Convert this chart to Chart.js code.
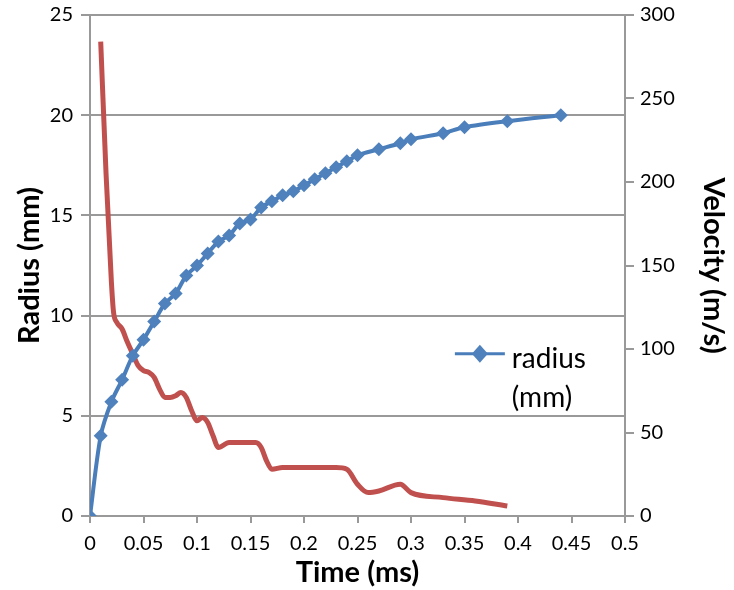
<!DOCTYPE html>
<html>
<head>
<meta charset="utf-8">
<script src="https://cdn.jsdelivr.net/npm/chart.js@4.4.1/dist/chart.umd.min.js"></script>
<style>
  html, body { margin: 0; padding: 0; background: #fff; }
  #wrap { width: 734px; height: 590px; }
</style>
</head>
<body>
<div id="wrap"><canvas id="radiusChart" width="734" height="590"></canvas></div>
<script>
// radius (mm) vs time (ms)
var radiusTime = [0, 0.01, 0.02, 0.03, 0.04, 0.05, 0.06, 0.07, 0.08, 0.09, 0.1, 0.11, 0.12, 0.13, 0.14, 0.15,
  0.16, 0.17, 0.18, 0.19, 0.2, 0.21, 0.22, 0.23, 0.24, 0.25, 0.27, 0.29, 0.3, 0.33, 0.35, 0.39, 0.44];
var radiusMm = [0, 4.0, 5.7, 6.8, 8.0, 8.8, 9.7, 10.6, 11.1, 12.0, 12.5, 13.1, 13.7, 14.0, 14.6, 14.8,
  15.4, 15.7, 16.0, 16.2, 16.5, 16.8, 17.1, 17.4, 17.7, 18.0, 18.3, 18.6, 18.8, 19.1, 19.4, 19.7, 20.0];

// velocity (m/s) vs time (ms), right axis
var velocityTime = [0.01, 0.015, 0.02, 0.022, 0.025, 0.03, 0.035, 0.04, 0.045, 0.05, 0.055, 0.06, 0.065, 0.07,
  0.075, 0.08, 0.085, 0.09, 0.095, 0.1, 0.105, 0.11, 0.115, 0.12, 0.13, 0.15, 0.155, 0.16, 0.165, 0.17,
  0.18, 0.23, 0.24, 0.25, 0.26, 0.27, 0.29, 0.3, 0.33, 0.36, 0.39];
var velocityMs = [284, 205, 140, 122, 116, 112, 104, 97, 90, 87, 86, 83, 76, 71,
  71, 72, 74, 71, 63, 57, 59, 56, 48, 41, 44, 44, 44, 41, 33, 28,
  29, 29, 28, 19, 14, 15, 19, 14, 11, 9, 6];

var FONT = 'Lato, "Open Sans", sans-serif';

function pairs(xs, ys) {
  var out = [];
  for (var i = 0; i < xs.length; i++) out.push({ x: xs[i], y: ys[i] });
  return out;
}

// legend for the radius series only, sitting inside the plot
var legendBox = {
  id: 'legendBox',
  afterDraw: function (chart) {
    var c = chart.ctx;
    var x = chart.scales.x.getPixelForValue(0.341);
    var y = chart.scales.y.getPixelForValue(8.1);
    c.save();
    c.strokeStyle = '#4A7EBB';
    c.lineWidth = 3;
    c.beginPath();
    c.moveTo(x, y);
    c.lineTo(x + 50, y);
    c.stroke();
    c.fillStyle = '#4F81BD';
    c.beginPath();
    c.moveTo(x + 25, y - 9);
    c.lineTo(x + 33, y);
    c.lineTo(x + 25, y + 9);
    c.lineTo(x + 17, y);
    c.closePath();
    c.fill();
    c.fillStyle = '#000';
    c.font = '28px ' + FONT;
    c.textBaseline = 'alphabetic';
    c.fillText('radius', x + 57, y + 14);
    c.fillText('(mm)', x + 57, y + 53);
    c.restore();
  }
};

function fixVertical(width) {
  return function (s) {
    s.width = width;
    s.paddingTop = 0;
    s.paddingBottom = 0;
  };
}

var ctx = document.getElementById('radiusChart');
var myChart = new Chart(ctx, {
  type: 'scatter',
  data: {
    datasets: [{
      label: 'radius (mm)',
      data: pairs(radiusTime, radiusMm),
      yAxisID: 'y',
      showLine: true,
      borderColor: '#4A7EBB',
      borderWidth: 4,
      backgroundColor: '#4F81BD',
      pointStyle: 'rectRot',
      pointRadius: 7,
      pointBorderWidth: 0,
      tension: 0.3,
      order: 1
    }, {
      label: 'velocity (m/s)',
      data: pairs(velocityTime, velocityMs),
      yAxisID: 'y2',
      showLine: true,
      borderColor: '#C0504D',
      borderWidth: 5,
      pointRadius: 0,
      cubicInterpolationMode: 'monotone',
      order: 2
    }]
  },
  options: {
    responsive: false,
    animation: false,
    layout: { padding: { top: 15 } },
    plugins: {
      legend: { display: false },
      tooltip: { enabled: false }
    },
    scales: {
      x: {
        type: 'linear',
        min: 0,
        max: 0.5,
        afterFit: function (s) { s.height = 74; },
        ticks: { stepSize: 0.05, color: '#000', font: { family: FONT, size: 20 }, padding: 9, maxRotation: 0,
          callback: function (v) { return Math.round(v * 100) / 100; } },
        grid: { drawOnChartArea: false, color: '#999', lineWidth: 2, tickLength: 7 },
        border: { color: '#999', width: 2 },
        title: { display: true, text: 'Time (ms)', color: '#000', font: { family: FONT, size: 29, weight: 'bold' }, padding: { top: 0, bottom: 0 } }
      },
      y: {
        position: 'left',
        min: 0,
        max: 25,
        afterFit: fixVertical(90),
        ticks: { stepSize: 5, color: '#000', font: { family: FONT, size: 20 }, padding: 8 },
        grid: { color: '#999', lineWidth: 2, tickLength: 9 },
        border: { color: '#999', width: 2 },
        title: { display: true, text: 'Radius (mm)', color: '#000', font: { family: FONT, size: 29, weight: 'bold' }, padding: { top: 12, bottom: 0 } }
      },
      y2: {
        position: 'right',
        min: 0,
        max: 300,
        afterFit: fixVertical(109),
        ticks: { stepSize: 50, color: '#000', font: { family: FONT, size: 20 }, padding: 6 },
        grid: { drawOnChartArea: false, color: '#999', lineWidth: 2, tickLength: 9 },
        border: { color: '#999', width: 2 },
        title: { display: true, text: 'Velocity (m/s)', color: '#000', font: { family: FONT, size: 29, weight: 'bold' }, padding: { top: 3, bottom: 0 } }
      }
    }
  },
  plugins: [legendBox]
});
</script>
</body>
</html>
